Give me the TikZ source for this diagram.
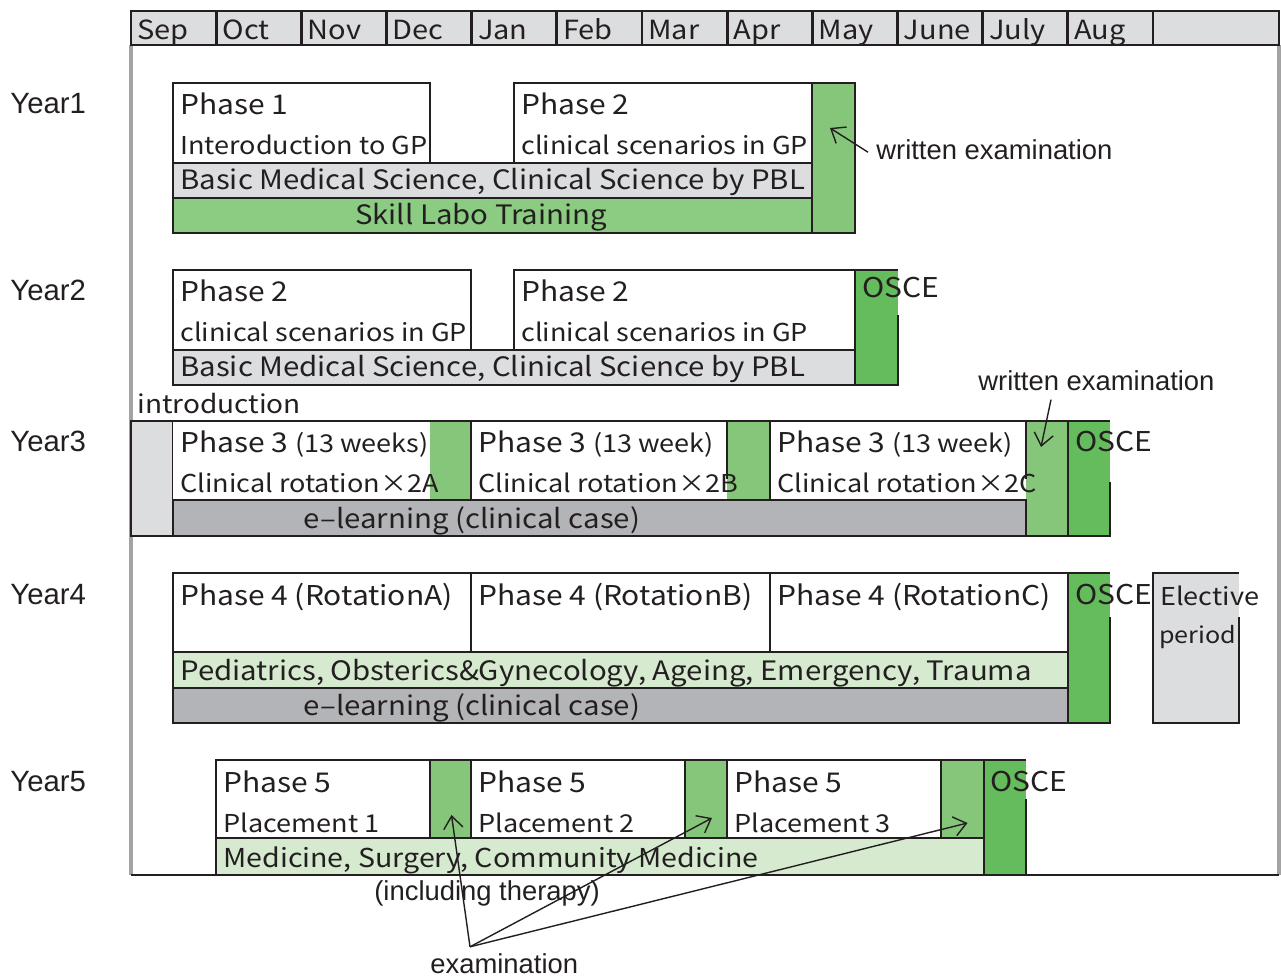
\documentclass[tikz,border=0pt]{standalone}
\usepackage{fontspec}
\setmainfont[FakeStretch=1.1]{Noto Sans CJK JP}
\newfontfamily\notefont{Liberation Sans}
\usetikzlibrary{positioning, arrows.meta, calc}
\definecolor{cHead}{HTML}{DCDDDF}
\definecolor{cElearn}{HTML}{B3B4B7}
\definecolor{cExam}{HTML}{86C67A}
\definecolor{cSkill}{HTML}{8CCB82}
\definecolor{cOsce}{HTML}{65BC5C}
\definecolor{cPale}{HTML}{D5EACF}
\definecolor{cRule}{HTML}{A3A3A3}
\definecolor{cInk}{HTML}{231F20}
\tikzset{
  cellbox/.style={
    rectangle, draw=cInk, fill=white, line width=1.6pt,
    inner sep=0pt, outer sep=0pt, anchor=north west
  },
  edge/.style={draw=cInk, line width=1.6pt},
  monthtxt/.style={
    anchor=base west, inner sep=0pt, text=cInk,
    font=\fontsize{15}{18}\selectfont
  },
  toptxt/.style={
    anchor=base west, inner sep=0pt, text=cInk,
    font=\fontsize{15.5}{18}\selectfont
  },
  subtxt/.style={
    anchor=base west, inner sep=0pt, text=cInk,
    font=\fontsize{14}{17}\selectfont
  },
  bartxt/.style={
    anchor=base west, inner sep=0pt, text=cInk,
    font=\fontsize{15.2}{18}\selectfont
  },
  notetxt/.style={
    anchor=base west, inner sep=0pt, text=cInk,
    font=\notefont\fontsize{15.6}{18}\selectfont
  },
  yeartxt/.style={notetxt, font=\notefont\fontsize{16.7}{19}\selectfont},
  arr/.style={
    -{Straight Barb[length=7pt, width=11pt]}, draw=cInk, line width=0.8pt
  }
}
% box in pixel coordinates: name, options, x1, y1, x2, y2
\newcommand{\calbox}[6]{%
  \node[cellbox, #2, minimum width={(#5-#3)*0.02cm},
        minimum height={(#6-#4)*0.02cm}] (#1) at (#3,#4) {};}
% box whose right side is open at the top (text runs over it)
\newcommand{\gapbox}[7]{%
  \calbox{#1}{draw=none, fill=#2}{#3}{#4}{#5}{#6}
  \draw[edge] ($(#1.north east)+(0,#7)$) -- (#1.south east) -- (#1.south west)
    -- (#1.north west) -- (#1.north east);}
% two text lines of a phase box
\newcommand{\phasetext}[3]{%
  \node[toptxt] (#1a) at ($(#1.north west)+(7,32)$) {#2};
  \node[subtxt] (#1b) at ($(#1.north west)+(7,72)$) {#3};}
\newcommand{\smallpar}[1]{{\fontsize{14}{17}\selectfont(#1)}}

\begin{document}
\begin{tikzpicture}[x=0.02cm, y=-0.02cm]
\useasboundingbox (0,0) rectangle (1281,979);

%% ── Frame ────────────────────────────────────────────────────────
\draw[cRule, line width=2pt] (131,45) -- (131,875);
\draw[cRule, line width=2pt] (1279,45) -- (1279,875);

%% ── Months ───────────────────────────────────────────────────────
\foreach \m [count=\i from 0] in {Sep,Oct,Nov,Dec,Jan,Feb,Mar,Apr,May,June,July,Aug}{
  \pgfmathsetmacro\xa{131+\i*85.17}
  \pgfmathsetmacro\xb{\xa+85.17}
  \calbox{m\i}{fill=cHead}{\xa}{11}{\xb}{45}
  \node[monthtxt] (mt\i) at ($(m\i.north west)+(6,29)$) {\m};
}
\calbox{mEnd}{fill=cHead}{1153}{11}{1279}{45}

%% ── Year labels ──────────────────────────────────────────────────
\node[yeartxt] (y1) at (10,114) {Year1};
\node[yeartxt] (y2) at (10,301) {Year2};
\node[yeartxt] (y3) at (10,452) {Year3};
\node[yeartxt] (y4) at (10,604) {Year4};
\node[yeartxt] (y5) at (10,791) {Year5};

%% ── Year 1 ───────────────────────────────────────────────────────
\calbox{p11}{}{173}{83}{430}{163}
\calbox{p12}{}{514}{83}{812}{163}
\calbox{bm1}{fill=cHead}{173}{163}{812}{198}
\calbox{sk1}{fill=cSkill}{173}{198}{812}{233}
\calbox{ex1}{fill=cExam}{812}{83}{855}{233}
\phasetext{p11}{Phase 1}{Interoduction to GP}
\phasetext{p12}{Phase 2}{clinical scenarios in GP}
\node[bartxt] (bm1t) at ($(bm1.north west)+(7,27)$)
  {Basic Medical Science, Clinical Science by PBL};
\node[bartxt, anchor=base] (sk1t) at (481,225) {Skill Labo Training};
\node[notetxt] (we1) at (876,160) {written examination};
\coordinate (we1tip) at ($(ex1.north west)+(18,45)$);
\draw[arr] ($(we1.west)+(-8,2)$) -- (we1tip);

%% ── Year 2 ───────────────────────────────────────────────────────
\calbox{p21}{}{173}{270}{471}{350}
\calbox{p22}{}{514}{270}{855}{350}
\calbox{bm2}{fill=cHead}{173}{350}{855}{385}
\gapbox{os2}{cOsce}{855}{270}{898}{385}{45}
\phasetext{p21}{Phase 2}{clinical scenarios in GP}
\phasetext{p22}{Phase 2}{clinical scenarios in GP}
\node[bartxt] (bm2t) at ($(bm2.north west)+(7,27)$)
  {Basic Medical Science, Clinical Science by PBL};
\node[toptxt] (os2t) at ($(os2.north west)+(7,28)$) {OSCE};

%% ── Year 3 ───────────────────────────────────────────────────────
\node[toptxt, font=\fontsize{14.5}{17}\selectfont] (in3t) at (137,414) {introduction};
\calbox{in3}{fill=cHead}{131}{421}{173}{536}
\calbox{p31}{draw=none}{173}{421}{430}{500}
\calbox{e31}{draw=none, fill=cExam}{430}{421}{471}{500}
\calbox{p32}{draw=none}{471}{421}{727}{500}
\calbox{e32}{draw=none, fill=cExam}{727}{421}{770}{500}
\calbox{p33}{draw=none}{770}{421}{1026}{500}
\calbox{e33}{draw=none, fill=cExam}{1026}{421}{1068}{536}
\calbox{el3}{fill=cElearn}{173}{500}{1026}{536}
\gapbox{os3}{cOsce}{1068}{421}{1110}{536}{61}
\draw[edge] (in3.north east) -- (os3.north west);
\draw[edge] (in3.south east) -- (os3.south west);
\draw[edge] (e31.north east) -- (e31.south east);
\draw[edge] (e32.north east) -- (e32.south east);
\draw[edge] (e32.north west) -- ++(0,58);
\draw[edge] (e33.north west) -- ++(0,58);
\phasetext{p31}{Phase 3 \smallpar{13 weeks}}{Clinical rotation×2A}
\phasetext{p32}{Phase 3 \smallpar{13 week}}{Clinical rotation×2B}
\phasetext{p33}{Phase 3 \smallpar{13 week}}{Clinical rotation×2C}
\node[bartxt, anchor=base] (el3t) at (472,528) {e–learning (clinical case)};
\node[toptxt] (os3t) at ($(os3.north west)+(7,31)$) {OSCE};
\node[notetxt] (we3) at (978,391) {written examination};
\coordinate (we3tip) at ($(e33.north west)+(15,26)$);
\draw[arr] ($(we3.south west)+(73,8)$) -- (we3tip);

%% ── Year 4 ───────────────────────────────────────────────────────
\calbox{p41}{}{173}{573}{471}{652}
\calbox{p42}{}{471}{573}{770}{652}
\calbox{p43}{}{770}{573}{1068}{652}
\calbox{pd4}{fill=cPale}{173}{652}{1068}{688}
\calbox{el4}{fill=cElearn}{173}{688}{1068}{723}
\gapbox{os4}{cOsce}{1068}{573}{1110}{723}{44}
\gapbox{ev4}{cHead}{1153}{573}{1239}{723}{44}
\node[toptxt] (p41a) at ($(p41.north west)+(7,32)$) {Phase 4 (RotationA)};
\node[toptxt] (p42a) at ($(p42.north west)+(7,32)$) {Phase 4 (RotationB)};
\node[toptxt] (p43a) at ($(p43.north west)+(7,32)$) {Phase 4 (RotationC)};
\node[bartxt] (pd4t) at ($(pd4.north west)+(7,28)$)
  {Pediatrics, Obsterics\&Gynecology, Ageing, Emergency, Trauma};
\node[bartxt, anchor=base] (el4t) at (472,715) {e–learning (clinical case)};
\node[toptxt] (os4t) at ($(os4.north west)+(7,31)$) {OSCE};
\node[subtxt] (ev4a) at ($(ev4.north west)+(7,32)$) {Elective};
\node[subtxt, font=\fontsize{13}{16}\selectfont] (ev4b) at ($(ev4.north west)+(6,70)$) {period};

%% ── Year 5 ───────────────────────────────────────────────────────
\calbox{p51}{}{216}{760}{430}{838}
\calbox{e51}{fill=cExam}{430}{760}{471}{838}
\calbox{p52}{}{471}{760}{685}{838}
\calbox{e52}{fill=cExam}{685}{760}{727}{838}
\calbox{p53}{}{727}{760}{941}{838}
\calbox{e53}{fill=cExam}{941}{760}{984}{838}
\calbox{md5}{fill=cPale}{216}{838}{984}{875}
\gapbox{os5}{cOsce}{984}{760}{1026}{875}{39}
\phasetext{p51}{Phase 5}{Placement 1}
\phasetext{p52}{Phase 5}{Placement 2}
\phasetext{p53}{Phase 5}{Placement 3}
\node[bartxt, font=\fontsize{14.8}{18}\selectfont] (md5t) at ($(md5.north west)+(7,29)$)
  {Medicine, Surgery, Community Medicine};
\node[toptxt] (os5t) at ($(os5.north west)+(6,31)$) {OSCE};

%% ── Bottom rule ──────────────────────────────────────────────────
\draw[edge] (131,875) -- (1279,875);

%% ── Examination notes ────────────────────────────────────────────
\node[notetxt] (th5) at (374,900) {(including therapy)};
\node[notetxt] (ex5) at (430,973) {examination};
\coordinate (ex5from) at ($(ex5.north west)+(40,-6)$);
\coordinate (t51) at ($(e51.center)+(1,16)$);
\coordinate (t52) at ($(e52.center)+(6,19)$);
\coordinate (t53) at ($(e53.center)+(5,24)$);
\draw[arr] (ex5from) -- (t51);
\draw[arr] (ex5from) -- (t52);
\draw[arr] (ex5from) -- (t53);

\end{tikzpicture}
\end{document}
